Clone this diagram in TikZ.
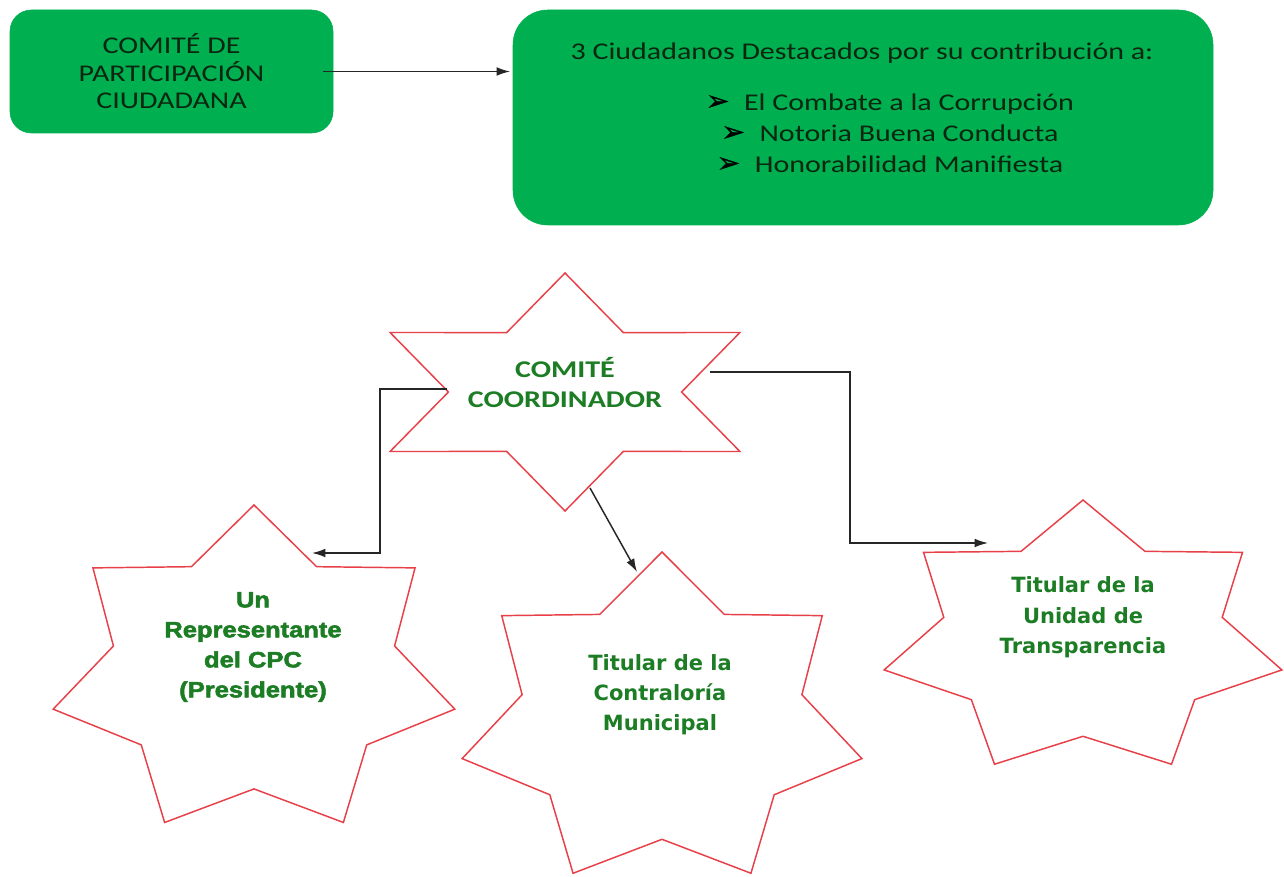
\documentclass[tikz,border=0pt]{standalone}
\usepackage{fontspec}
\setmainfont{Carlito}
\usetikzlibrary{positioning,arrows.meta,calc}
\newfontfamily\boxfont{Carlito}[FakeStretch=1.25]
\newfontfamily\cpcfont{Liberation Sans}[FakeStretch=1.16,BoldFeatures={FakeBold=2.5}]
\newfontfamily\titfont{DejaVu Sans}
\newfontfamily\dingfont{DejaVu Sans}[FakeBold=1]
\definecolor{boxgreen}{RGB}{0,176,80}
\definecolor{boxtext}{RGB}{12,38,16}
\definecolor{starred}{RGB}{232,64,72}
\definecolor{stargreen}{RGB}{28,125,36}
\newcommand{\bul}{{\dingfont\fontsize{21}{21}\selectfont\color{black}\char"27A2}\hspace{11pt}}

\begin{document}
\begin{tikzpicture}[x=0.75pt, y=0.75pt,
  every node/.style={inner sep=0pt},
  %% green rounded boxes at the top
  gbox/.style={
    fill=boxgreen, draw=boxgreen, text=boxtext,
    align=center, font=\boxfont\fontsize{18}{20.6}\selectfont
  },
  %% plain text inside the big green box
  btxt/.style={text=boxtext, align=center, font=\boxfont\fontsize{18}{23.25}\selectfont},
  %% red outline of each star
  starline/.style={draw=starred, line width=1.1pt, line join=miter},
  %% green labels inside the stars
  slbl/.style={text=stargreen, align=center},
  %% black connectors
  arr/.style={-{Latex[length=10pt,width=6.5pt]}, line width=1.1pt, black!85},
]
\useasboundingbox (0,0) rectangle (1284,876);
\fill[white] (0,0) rectangle (1284,876);

%%── Top row: committee and its members ───────────────────────────────────────
\node[gbox, minimum width=242.25pt, minimum height=92.25pt,
      rounded corners=16pt] (cpc) at (171.5,804.5)
  {COMITÉ DE\\PARTICIPACIÓN\\CIUDADANA};

\node[gbox, minimum width=525pt, minimum height=161.25pt,
      rounded corners=26pt] (info) at (863,758.5) {};
\node[btxt] (infohead) at (862,823)
  {3 Ciudadanos Destacados por su contribución a:};
\node[btxt] (infolist) at (890,743)
  {\bul El Combate a la Corrupción\\
   \bul Notoria Buena Conducta\\
   \bul Honorabilidad Manifiesta};

%%── Star centres and connector ends ──────────────────────────────────────────
\coordinate (s1) at (565,484);
\coordinate (s2) at (254,204);
\coordinate (s3) at (662,155);
\coordinate (s4) at (1083,237);
\coordinate (s1w)  at (447,487);
\coordinate (s1se) at (590,388);
\coordinate (s1e)  at (710,504);
\coordinate (s2in) at (312,323);
\coordinate (s3in) at (637,304);
\coordinate (s4in) at (988,333);

%%── Star outlines (points / x radius / y radius / inner ratio) ───────────────
\foreach \c/\n/\rx/\ry/\f [evaluate=\n as \m using int(2*\n-1)] in
  {s1/6/202/119/0.577, s2/7/206/167/0.7, s3/7/205/169/0.7, s4/7/204/139/0.7}
  \draw[starline] (\c) +(0,\ry)
    \foreach \k [evaluate=\k as \a using 90+\k*180/\n,
                 evaluate=\k as \g using 1-(1-\f)*isodd(\k)] in {1,...,\m}
      { -- +({\g*\rx*cos(\a)},{\g*\ry*sin(\a)}) } -- cycle;

%%── Star labels ──────────────────────────────────────────────────────────────
\node[slbl, font=\boxfont\bfseries\fontsize{18}{23}\selectfont]
  (coord) at (565,493.5) {COMITÉ\\COORDINADOR};
\node[slbl, font=\cpcfont\bfseries\fontsize{16.5}{22.5}\selectfont]
  (pres) at (253,229) {Un\\Representante\\del CPC\\(Presidente)};
\node[slbl, font=\titfont\bfseries\fontsize{15.75}{22.5}\selectfont]
  (contra) at (660,181) {Titular de la\\Contraloría\\Municipal};
\node[slbl, font=\titfont\bfseries\fontsize{15.75}{22.8}\selectfont]
  (transp) at (1083,258.5) {Titular de la\\Unidad de\\Transparencia};

%%── Connectors ───────────────────────────────────────────────────────────────
\draw[arr, shorten >=2pt] ([xshift=-8pt]cpc.east) -- (cpc.east -| info.west);
\draw[arr] (s1w) -- ++(-67,0) |- (s2in);
\draw[arr] (s1se) -- (s3in);
\draw[arr] (s1e) -- ++(140,0) |- (s4in);

\end{tikzpicture}
\end{document}
